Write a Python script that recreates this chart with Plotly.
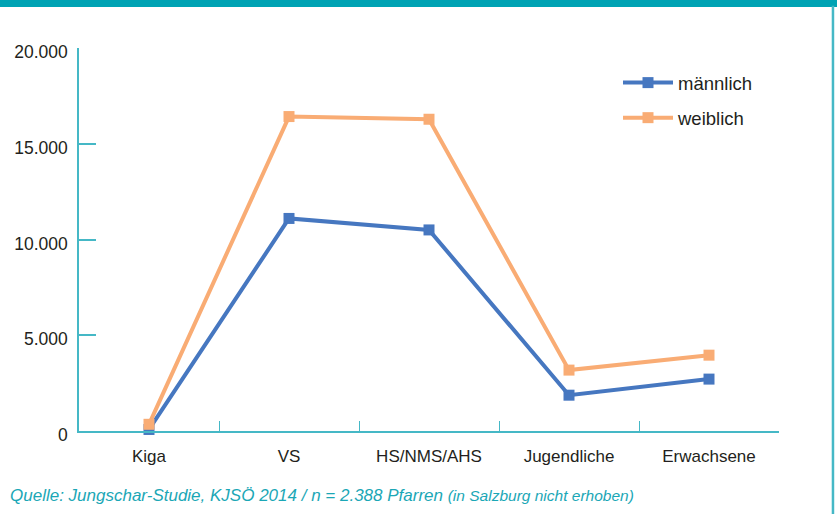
import plotly.graph_objects as go

# Kategorien und Werte
categories = ["Kiga", "VS", "HS/NMS/AHS", "Jugendliche", "Erwachsene"]
maennlich = [80, 11100, 10500, 1870, 2710]
weiblich = [350, 16420, 16280, 3180, 3960]
y_ticks = [0, 5000, 10000, 15000, 20000]

BLUE = "#4677C0"
ORANGE = "#F9AC74"
TEAL = "#45B8C6"
TEAL_DARK = "#00A3B4"
TEXT = "#231F20"
REGULAR = "Liberation Sans, Arial, sans-serif"

fig = go.Figure()
for name, vals, col in [("männlich", maennlich, BLUE), ("weiblich", weiblich, ORANGE)]:
    fig.add_trace(go.Scatter(
        x=categories, y=vals, name=name, mode="lines+markers",
        legendgroup=name,
        line=dict(color=col, width=4),
        marker=dict(symbol="square", size=11, color=col),
        cliponaxis=False,
    ))

fig.update_layout(
    width=837, height=514,
    margin=dict(l=79, r=58, t=48, b=83),
    paper_bgcolor="white", plot_bgcolor="white",
    separators=",.",
    font=dict(family=REGULAR, size=17, color=TEXT),
    showlegend=True,
    legend=dict(
        x=0.77, y=0.958, xanchor="left", yanchor="top",
        font=dict(family=REGULAR, size=18.5, color=TEXT),
        bgcolor="rgba(0,0,0,0)", itemwidth=50,
        traceorder="grouped", tracegroupgap=8,
    ),
    xaxis=dict(
        type="category", range=[-0.5, 4.5],
        showline=True, linecolor=TEAL, linewidth=1.5,
        ticks="inside", tickson="boundaries", ticklen=10, tickcolor=TEAL,
        tickwidth=1, showgrid=False, zeroline=False,
        ticklabelstandoff=9,
        tickfont=dict(family=REGULAR, size=17, color=TEXT),
    ),
    yaxis=dict(
        range=[0, 20000], tickvals=y_ticks, tickformat=",d",
        showline=True, linecolor=TEAL, linewidth=1.5,
        ticks="inside", ticklen=17, tickcolor=TEAL, tickwidth=1.5,
        showgrid=False, zeroline=False,
        ticklabelstandoff=6, ticklabelshift=4,
        tickfont=dict(family=REGULAR, size=17.5, color=TEXT),
    ),
    shapes=[
        # Balken oben
        dict(type="rect", xref="paper", yref="paper",
             x0=-0.2, x1=1.2, y0=1.107, y1=1.13,
             fillcolor=TEAL_DARK, line=dict(width=0), layer="above"),
        # Rahmen rechts
        dict(type="line", xref="paper", yref="paper",
             x0=1.0771, x1=1.0771, y0=-0.3, y1=1.11,
             line=dict(color=TEAL, width=2.5)),
    ],
    annotations=[
        dict(xref="paper", yref="paper", x=-0.101, y=-0.168,
             xanchor="left", yanchor="middle", showarrow=False,
             text="<i>Quelle: Jungschar-Studie, KJSÖ 2014 / n = 2.388 Pfarren "
                  "<span style='font-size:15.5px'>(in Salzburg nicht erhoben)</span></i>",
             font=dict(family=REGULAR, size=17, color="#1BA7B6")),
    ],
)

fig.write_html("out.html")
